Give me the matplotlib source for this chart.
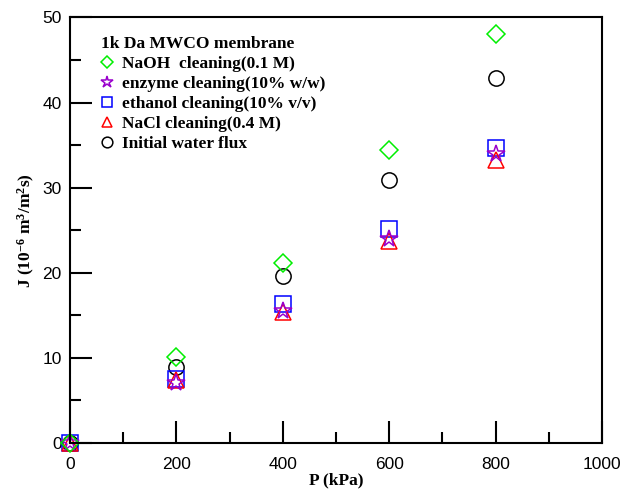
import numpy as np
import matplotlib.pyplot as plt
from matplotlib.ticker import MultipleLocator

# pressure (kPa) and flux J (10^-6 m3/m2 s)
P = [0, 200, 400, 600, 800]
J_naoh = [0, 10.1, 21.2, 34.4, 48.1]
J_enzyme = [0, 7.0, 15.5, 24.0, 34.0]
J_ethanol = [0, 7.5, 16.3, 25.2, 34.7]
J_nacl = [0, 7.4, 15.4, 23.7, 33.2]
J_water = [0, 8.9, 19.6, 30.9, 42.9]

serif = ['Liberation Serif', 'DejaVu Serif']
plt.rcParams['font.family'] = ['Liberation Sans', 'DejaVu Sans']
plt.rcParams['mathtext.fontset'] = 'custom'
plt.rcParams['mathtext.rm'] = 'Liberation Serif:bold'
plt.rcParams['mathtext.it'] = 'Liberation Serif:bold'
plt.rcParams['mathtext.bf'] = 'Liberation Serif:bold'

fig = plt.figure(figsize=(6.32, 4.9), dpi=100)
ax = fig.add_axes([0.1108, 0.0959, 0.8417, 0.8684])

ms = 11
mew = 1.1
kw = dict(linestyle='none', clip_on=False, markerfacecolor='none', markeredgewidth=mew)
ax.plot(P, J_water, marker='o', color='black', markersize=ms, label='Initial water flux', **kw)
ax.plot(P, J_ethanol, marker='s', color='#0000ff', markersize=ms, label='ethanol cleaning(10% v/v)', **kw)
ax.plot(P, J_nacl, marker='^', color='#ff0000', markersize=ms, label='NaCl cleaning(0.4 M)', **kw)
ax.plot(P, J_enzyme, marker='*', color='#9900cc', markersize=ms + 2, label='enzyme cleaning(10% w/w)', **kw)
ax.plot(P, J_naoh, marker='D', color='#00ee00', markersize=ms - 2, label='NaOH  cleaning(0.1 M)', **kw)

ax.set_xlim(0, 1000)
ax.set_ylim(0, 50)
ax.xaxis.set_major_locator(MultipleLocator(200))
ax.xaxis.set_minor_locator(MultipleLocator(100))
ax.yaxis.set_major_locator(MultipleLocator(10))
ax.yaxis.set_minor_locator(MultipleLocator(5))
ax.tick_params(which='both', direction='in', width=1.5, top=False, right=False, labelsize=12.5)
ax.tick_params(which='major', length=16)
ax.tick_params(axis='x', which='major', pad=10)
ax.tick_params(axis='y', which='major', pad=6)
ax.tick_params(which='minor', length=8)
for s in ax.spines.values():
    s.set_linewidth(1.5)

ax.set_xlabel('P (kPa)', family=serif, fontweight='bold', fontsize=12.5, labelpad=0)
ax.set_ylabel(r'J (10$^{-6}$ m$^{3}$/m$^{2}$s)', family=serif, fontweight='bold', fontsize=12.5, labelpad=4)

h, l = ax.get_legend_handles_labels()
order = [4, 3, 1, 2, 0]
leg = ax.legend([h[i] for i in order], [l[i] for i in order], loc='upper left',
                bbox_to_anchor=(0.035, 0.985), frameon=False, title='1k Da MWCO membrane',
                prop={'family': serif, 'weight': 'bold', 'size': 12.5}, markerscale=0.7,
                handlelength=0.7, handletextpad=0.5, labelspacing=0.22, borderpad=0.2)
leg.get_title().set_fontfamily(serif)
leg.get_title().set_fontweight('bold')
leg.get_title().set_fontsize(12.5)
leg._legend_box.align = 'left'

fig.savefig('out.png', dpi=100)
